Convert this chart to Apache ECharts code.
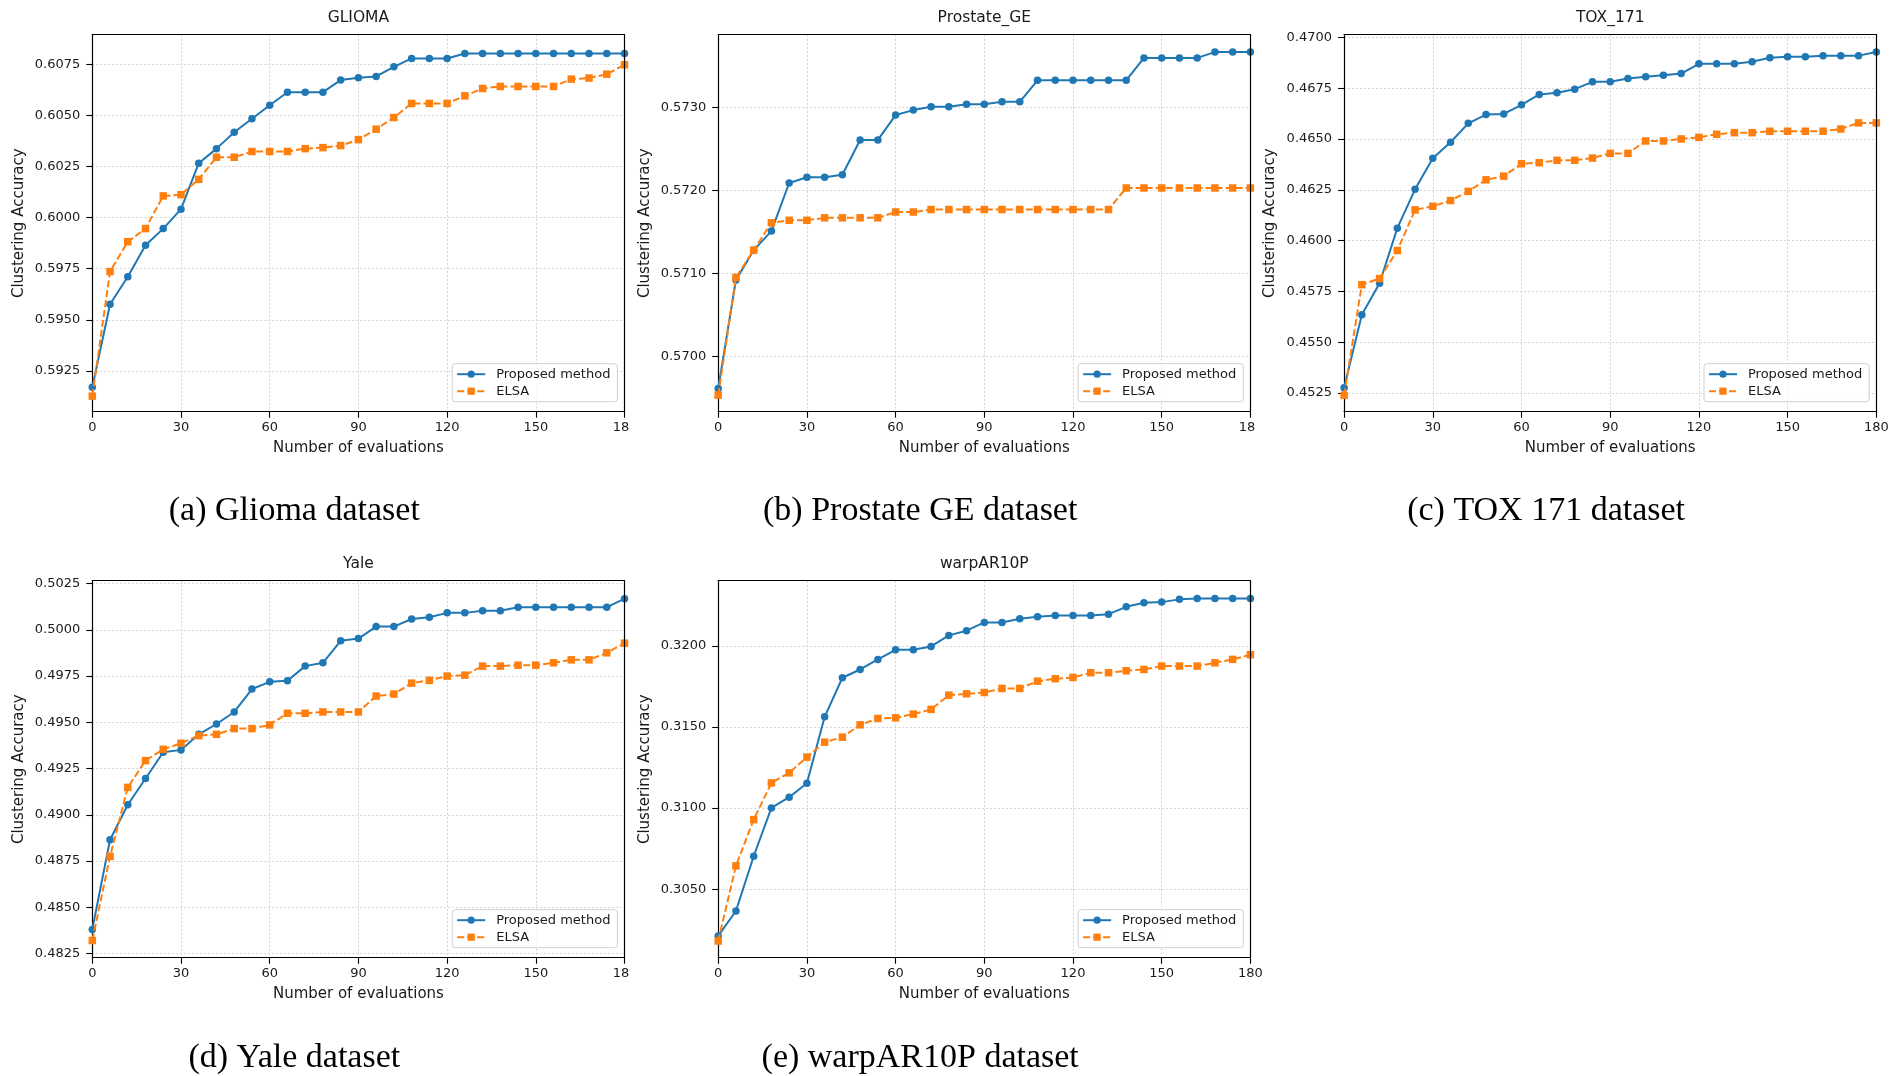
<!DOCTYPE html>
<html>
<head>
<meta charset="utf-8">
<title>Clustering accuracy vs evaluations</title>
<style>
  html, body { margin: 0; padding: 0; background: #fff; }
  #main { width: 1900px; height: 1076px; }
</style>
</head>
<body>
<div id="main"></div>
<script src="https://cdn.jsdelivr.net/npm/echarts@6/dist/echarts.min.js"></script>
<script>
// x values (number of evaluations)
var evaluations = [0, 6, 12, 18, 24, 30, 36, 42, 48, 54, 60, 66, 72, 78, 84, 90,
  96, 102, 108, 114, 120, 126, 132, 138, 144, 150, 156, 162, 168, 174, 180];
var xTicks = [0, 30, 60, 90, 120, 150, 180];

// GLIOMA
var gliomaProposed = [0.59170, 0.59576, 0.59711, 0.59865, 0.59946, 0.60041, 0.60266, 0.60337, 0.60417, 0.60483,
  0.60549, 0.60613, 0.60613, 0.60613, 0.60672, 0.60683, 0.60690, 0.60737, 0.60778, 0.60778,
  0.60778, 0.60802, 0.60802, 0.60802, 0.60802, 0.60802, 0.60802, 0.60802, 0.60802, 0.60802,
  0.60802];
var gliomaElsa = [0.59127, 0.59736, 0.59882, 0.59946, 0.60106, 0.60112, 0.60187, 0.60295, 0.60295, 0.60323,
  0.60323, 0.60323, 0.60337, 0.60342, 0.60352, 0.60381, 0.60432, 0.60489, 0.60558, 0.60558,
  0.60558, 0.60595, 0.60631, 0.60641, 0.60641, 0.60641, 0.60641, 0.60677, 0.60682, 0.60701,
  0.60747];
var gliomaTicks = [0.5925, 0.5950, 0.5975, 0.6000, 0.6025, 0.6050, 0.6075];
var gliomaRange = [0.59051, 0.60894];

// Prostate_GE
var prostateProposed = [0.56961, 0.57092, 0.57128, 0.57151, 0.57209, 0.57216, 0.57216, 0.57219, 0.57261, 0.57261,
  0.57291, 0.57297, 0.57301, 0.57301, 0.57304, 0.57304, 0.57307, 0.57307, 0.57333, 0.57333,
  0.57333, 0.57333, 0.57333, 0.57333, 0.57360, 0.57360, 0.57360, 0.57360, 0.57367, 0.57367,
  0.57367];
var prostateElsa = [0.56953, 0.57095, 0.57128, 0.57161, 0.57164, 0.57164, 0.57167, 0.57167, 0.57167, 0.57167,
  0.57174, 0.57174, 0.57177, 0.57177, 0.57177, 0.57177, 0.57177, 0.57177, 0.57177, 0.57177,
  0.57177, 0.57177, 0.57177, 0.57203, 0.57203, 0.57203, 0.57203, 0.57203, 0.57203, 0.57203,
  0.57203];
var prostateTicks = [0.5700, 0.5710, 0.5720, 0.5730];
var prostateRange = [0.56933, 0.57388];

// TOX_171
var toxProposed = [0.45276, 0.45635, 0.45790, 0.46061, 0.46252, 0.46405, 0.46484, 0.46577, 0.46620, 0.46623,
  0.46668, 0.46719, 0.46727, 0.46745, 0.46781, 0.46781, 0.46798, 0.46806, 0.46814, 0.46822,
  0.46870, 0.46870, 0.46870, 0.46880, 0.46900, 0.46905, 0.46905, 0.46910, 0.46910, 0.46910,
  0.46928];
var toxElsa = [0.45239, 0.45783, 0.45813, 0.45951, 0.46151, 0.46169, 0.46197, 0.46242, 0.46299, 0.46317,
  0.46378, 0.46383, 0.46395, 0.46395, 0.46406, 0.46429, 0.46429, 0.46490, 0.46490, 0.46500,
  0.46508, 0.46523, 0.46531, 0.46531, 0.46538, 0.46538, 0.46538, 0.46538, 0.46549, 0.46579,
  0.46579];
var toxTicks = [0.4525, 0.4550, 0.4575, 0.4600, 0.4625, 0.4650, 0.4675, 0.4700];
var toxRange = [0.45158, 0.47013];

// Yale
var yaleProposed = [0.48380, 0.48865, 0.49054, 0.49196, 0.49338, 0.49351, 0.49435, 0.49491, 0.49556, 0.49680,
  0.49719, 0.49725, 0.49804, 0.49822, 0.49941, 0.49953, 0.50018, 0.50018, 0.50059, 0.50068,
  0.50092, 0.50092, 0.50103, 0.50103, 0.50122, 0.50122, 0.50122, 0.50122, 0.50122, 0.50122,
  0.50169];
var yaleElsa = [0.48320, 0.48775, 0.49148, 0.49293, 0.49354, 0.49387, 0.49428, 0.49435, 0.49466, 0.49466,
  0.49486, 0.49549, 0.49549, 0.49556, 0.49556, 0.49556, 0.49642, 0.49653, 0.49712, 0.49727,
  0.49750, 0.49755, 0.49804, 0.49804, 0.49809, 0.49809, 0.49822, 0.49838, 0.49838, 0.49876,
  0.49928];
var yaleTicks = [0.4825, 0.4850, 0.4875, 0.4900, 0.4925, 0.4950, 0.4975, 0.5000, 0.5025];
var yaleRange = [0.48227, 0.50266];

// warpAR10P
var warpProposed = [0.30212, 0.30366, 0.30703, 0.31001, 0.31067, 0.31153, 0.31562, 0.31803, 0.31854, 0.31916,
  0.31975, 0.31975, 0.31996, 0.32064, 0.32093, 0.32144, 0.32144, 0.32167, 0.32179, 0.32187,
  0.32187, 0.32187, 0.32195, 0.32240, 0.32265, 0.32269, 0.32286, 0.32292, 0.32292, 0.32292,
  0.32292];
var warpElsa = [0.30181, 0.30644, 0.30929, 0.31155, 0.31217, 0.31314, 0.31406, 0.31437, 0.31513, 0.31552,
  0.31556, 0.31579, 0.31608, 0.31696, 0.31704, 0.31712, 0.31737, 0.31737, 0.31782, 0.31797,
  0.31805, 0.31834, 0.31834, 0.31846, 0.31854, 0.31875, 0.31875, 0.31875, 0.31895, 0.31916,
  0.31945];
var warpTicks = [0.3050, 0.3100, 0.3150, 0.3200];
var warpRange = [0.30078, 0.32401];

var panelTitles = ['GLIOMA', 'Prostate_GE', 'TOX_171', 'Yale', 'warpAR10P'];
var captions = ['(a) Glioma dataset', '(b) Prostate GE dataset', '(c) TOX 171 dataset',
  '(d) Yale dataset', '(e) warpAR10P dataset'];
// the right-most x label is cut to "18" on three of the sub-figures
var lastXLabels = ['18', '18', '180', '18', '180'];
var seriesNames = ['Proposed method', 'ELSA'];

var panels = [
  { proposed: gliomaProposed, elsa: gliomaElsa, ticks: gliomaTicks, range: gliomaRange },
  { proposed: prostateProposed, elsa: prostateElsa, ticks: prostateTicks, range: prostateRange },
  { proposed: toxProposed, elsa: toxElsa, ticks: toxTicks, range: toxRange },
  { proposed: yaleProposed, elsa: yaleElsa, ticks: yaleTicks, range: yaleRange },
  { proposed: warpProposed, elsa: warpElsa, ticks: warpTicks, range: warpRange }
];

// plot boxes in px: left, top
var boxes = [[92.3, 34.7], [718.2, 34.7], [1344.1, 34.7], [92.3, 580.7], [718.2, 580.7]];
var BOX_W = 532.2, BOX_H = 377;
var captionY = [511, 511, 511, 1058, 1058];

var FONT = '"DejaVu Sans", sans-serif';
var TXT = '#1a1a1a';
var SPINE = { color: '#000', width: 1.2 };
var GRIDLINE = { color: '#d4d4d4', width: 1, type: [2, 2] };

function pairs (xs, ys) {
  return xs.map(function (x, i) { return [x, ys[i]]; });
}

var grid = [], xAxis = [], yAxis = [], series = [], title = [], legend = [];

panels.forEach(function (p, i) {
  var left = boxes[i][0], top = boxes[i][1];
  var cut = lastXLabels[i];

  grid.push({ left: left, top: top, width: BOX_W, height: BOX_H });

  xAxis.push({
    type: 'value', gridIndex: i, min: 0, max: 180, interval: 30,
    name: 'Number of evaluations', nameLocation: 'middle', nameGap: 29,
    nameTextStyle: { fontFamily: FONT, fontSize: 15, color: TXT },
    axisLine: { lineStyle: SPINE },
    axisTick: { length: 6, lineStyle: { color: '#000', width: 1.1 } },
    axisLabel: {
      fontFamily: FONT, fontSize: 13, color: TXT, margin: 9,
      formatter: function (v) {
        if (v === 180) return cut === '180' ? '180' : '{cut|' + cut + '}';
        return String(v);
      },
      rich: { cut: { fontFamily: FONT, fontSize: 13, color: TXT, padding: [0, 7, 0, 0] } }
    },
    splitLine: { show: true, lineStyle: GRIDLINE }
  });

  yAxis.push({
    type: 'value', gridIndex: i, min: p.range[0], max: p.range[1],
    name: 'Clustering Accuracy', nameLocation: 'middle', nameGap: 66,
    nameTextStyle: { fontFamily: FONT, fontSize: 15, color: TXT },
    axisLine: { show: true, lineStyle: SPINE },
    axisTick: { show: true, length: 6, customValues: p.ticks, lineStyle: { color: '#000', width: 1.1 } },
    axisLabel: {
      fontFamily: FONT, fontSize: 13, color: TXT, margin: 12, customValues: p.ticks,
      formatter: function (v) { return v.toFixed(4); }
    },
    splitLine: { show: true, lineStyle: GRIDLINE }
  });

  series.push({
    name: seriesNames[0], type: 'line', xAxisIndex: i, yAxisIndex: i,
    data: pairs(evaluations, p.proposed),
    symbol: 'circle', symbolSize: 7.5, color: '#1f77b4',
    lineStyle: { width: 2, color: '#1f77b4' },
    itemStyle: { color: '#1f77b4' }, z: 3
  });
  series.push({
    name: seriesNames[1], type: 'line', xAxisIndex: i, yAxisIndex: i,
    data: pairs(evaluations, p.elsa),
    symbol: 'rect', symbolSize: 7.5, color: '#ff7f0e',
    lineStyle: { width: 2, color: '#ff7f0e', type: [7, 3] },
    itemStyle: { color: '#ff7f0e' }, z: 4
  });

  title.push({
    text: panelTitles[i], left: left + BOX_W / 2, top: top - 25.5, textAlign: 'center', padding: 0,
    textStyle: { fontFamily: FONT, fontSize: 15.5, fontWeight: 'normal', color: TXT, lineHeight: 18 }
  });
  title.push({
    text: captions[i], left: left + 202, top: captionY[i] - 20, textAlign: 'center', padding: 0,
    textStyle: { fontFamily: '"Liberation Serif", serif', fontSize: 34, fontWeight: 'normal', color: '#000', lineHeight: 40 }
  });

  legend.push({
    data: seriesNames, orient: 'vertical',
    left: left + 359.9, top: top + 329,
    padding: [4, 7, 4, 4], itemGap: 4, itemWidth: 28, itemHeight: 9,
    backgroundColor: 'rgba(255,255,255,0.8)', borderColor: '#d0d0d0', borderWidth: 1, borderRadius: 3,
    selectedMode: false,
    textStyle: { fontFamily: FONT, fontSize: 13, color: TXT, padding: [0, 0, 0, 6] }
  });
});

// top and right spines: bare axes drawn above the grid lines
panels.forEach(function (p, i) {
  xAxis.push({
    type: 'value', gridIndex: i, position: 'top', min: 0, max: 180, z: 5,
    axisLine: { show: true, onZero: false, lineStyle: SPINE },
    axisTick: { show: false }, axisLabel: { show: false }, splitLine: { show: false }
  });
  yAxis.push({
    type: 'value', gridIndex: i, position: 'right', min: p.range[0], max: p.range[1], z: 5,
    axisLine: { show: true, onZero: false, lineStyle: SPINE },
    axisTick: { show: false }, axisLabel: { show: false }, splitLine: { show: false }
  });
});

var chart = echarts.init(document.getElementById('main'));
chart.setOption({
  animation: false,
  backgroundColor: '#fff',
  title: title,
  legend: legend,
  grid: grid,
  xAxis: xAxis,
  yAxis: yAxis,
  series: series
});
</script>
</body>
</html>
